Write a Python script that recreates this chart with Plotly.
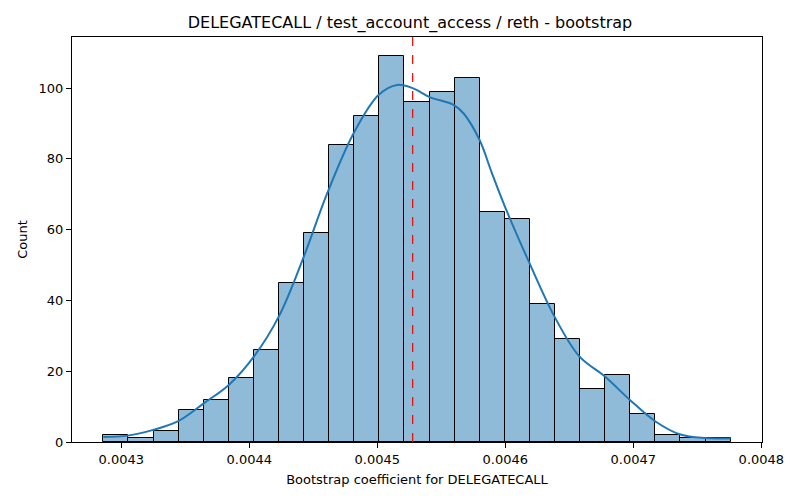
import numpy as np
import plotly.graph_objects as go

# histogram of bootstrap coefficients (25 equal bins)
bin_lo = 0.004286
bin_hi = 0.004776
counts = [2, 1, 3, 9, 12, 18, 26, 45, 59, 84, 92, 109, 96, 99, 103,
          65, 63, 39, 29, 15, 19, 8, 2, 1, 1]

# kde curve (count scale)
kde_x = [0.004286, 0.004305, 0.0043257, 0.004344, 0.0043647, 0.0043842,
         0.0044037, 0.0044231, 0.0044426, 0.0044609, 0.0044816, 0.0045011,
         0.0045154, 0.0045276, 0.0045414, 0.0045595, 0.0045673, 0.0045798,
         0.0045895, 0.0045996, 0.0046188, 0.0046383, 0.0046578, 0.0046778,
         0.0046973, 0.0047173, 0.0047368, 0.0047563, 0.004776]
kde_y = [1.4, 1.8, 3.5, 5.8, 11.0, 16.2, 24.2, 35.5, 52.4, 70.3, 87.3, 98.1,
         100.9, 100.0, 97.4, 95.3, 92.9, 85.4, 76.0, 66.6, 50.6, 35.5, 24.2,
         18.5, 11.9, 5.8, 2.1, 1.1, 1.0]

mean_val = 0.0045276

x_ticks = [0.0043, 0.0044, 0.0045, 0.0046, 0.0047, 0.0048]
y_ticks = [0, 20, 40, 60, 80, 100]

edges = np.linspace(bin_lo, bin_hi, len(counts) + 1)
centers = (edges[:-1] + edges[1:]) / 2
width = edges[1] - edges[0]

fig = go.Figure()
fig.add_trace(go.Bar(
    x=centers, y=counts, width=width,
    marker=dict(color="rgba(31,119,180,0.5)",
                line=dict(color="black", width=1)),
    showlegend=False,
))
fig.add_trace(go.Scatter(
    x=kde_x, y=kde_y, mode="lines", line_shape="spline",
    line=dict(color="#1f77b4", width=2), showlegend=False,
))
fig.add_shape(type="line", x0=mean_val, x1=mean_val, y0=0, y1=1,
              xref="x", yref="paper",
              line=dict(color="red", width=1.2, dash="dash"))

pad_x = (bin_hi - bin_lo) * 0.05
axis_style = dict(showline=True, linecolor="black", linewidth=1, mirror=True,
                  ticks="outside", ticklen=5, tickcolor="black",
                  showgrid=False, zeroline=False,
                  tickfont=dict(size=13, color="black"))

fig.update_layout(
    width=800, height=500,
    margin=dict(l=72, r=38, t=37, b=58),
    plot_bgcolor="white", paper_bgcolor="white",
    font=dict(family="DejaVu Sans", color="black"),
    bargap=0,
    title=dict(text="DELEGATECALL / test_account_access / reth - bootstrap",
               x=0.5125, xanchor="center", y=0.955, yanchor="middle",
               font=dict(size=16, color="black")),
    xaxis=dict(range=[bin_lo - pad_x, bin_hi + pad_x],
               tickvals=x_ticks, ticktext=[f"{v:.4f}" for v in x_ticks],
               title=dict(text="Bootstrap coefficient for DELEGATECALL",
                          font=dict(size=13), standoff=9),
               **axis_style),
    yaxis=dict(range=[0, max(counts) * 1.05],
               tickvals=y_ticks,
               title=dict(text="Count", font=dict(size=13), standoff=8),
               **axis_style),
)

fig.write_html("out.html", config={"displayModeBar": False},
               post_script="document.body.style.margin='0';")
